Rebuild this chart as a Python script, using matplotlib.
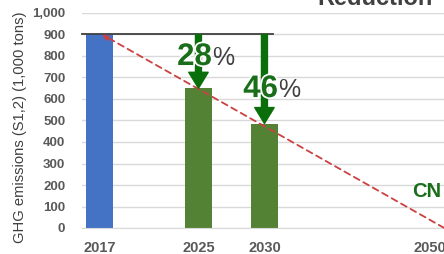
import matplotlib
matplotlib.use("Agg")
import matplotlib.pyplot as plt
import matplotlib.patheffects as pe

plt.rcParams['font.family'] = ['Liberation Sans', 'DejaVu Sans']

# Data
years = ["2017", "2025", "2030", "2050"]
year_pos = [0, 3, 5, 10]
bar_years = ["2017", "2025", "2030"]
bar_values = [900, 650, 486]
bar_colors = ["#4472c4", "#548235", "#548235"]
base_value = 900
reductions = ["28", "46"]
cn_value = 0
yticks = list(range(0, 1001, 100))
ytick_labels = [f"{v:,}" for v in yticks]

fig = plt.figure(figsize=(4.44, 2.54), dpi=100)
ax = fig.add_axes([82/444, 26/254, 388/444, 215/254])
ax.set_xlim(-0.53, 11.23)
ax.set_ylim(0, 1000)

pos = {y: p for y, p in zip(years, year_pos)}
bx = [pos[y] for y in bar_years]
ax.bar(bx, bar_values, width=0.82, color=bar_colors, zorder=2)

ax.set_yticks(yticks)
ax.set_yticklabels(ytick_labels, fontsize=9.5, fontweight='bold', color='#595959')
ax.set_xticks(year_pos)
ax.set_xticklabels(years, fontsize=10.5, fontweight='bold', color='#595959')
ax.tick_params(axis='y', length=0, pad=12)
ax.tick_params(axis='x', length=0, pad=9)
ax.grid(axis='y', color='#d9d9d9', linewidth=1, zorder=0)
for s in ['top', 'right', 'left']:
    ax.spines[s].set_visible(False)
ax.spines['bottom'].set_color('#d9d9d9')
ax.set_axisbelow(True)

ax.set_ylabel("GHG emissions (S1,2) (1,000 tons)", fontsize=10.6, color='#404040')
ax.yaxis.set_label_coords(-55/388, 0.47)

# baseline line at 900
ax.plot([-0.53, 5.25], [base_value, base_value], color='#404040', linewidth=1.3, zorder=3, clip_on=False)

# red dashed CN path
ax.annotate("", xy=(0.08, base_value), xytext=(pos["2050"] + 0.45, cn_value),
            arrowprops=dict(arrowstyle='-|>', linestyle=(0, (3.5, 2.5)), color='#cc4040',
                            lw=1.3, mutation_scale=8, shrinkA=0, shrinkB=0),
            zorder=4, annotation_clip=False)

# green arrows
for y, v in zip(bar_years[1:], bar_values[1:]):
    ax.annotate("", xy=(pos[y], v), xytext=(pos[y], base_value),
                arrowprops=dict(width=4.3, headwidth=14, headlength=11.5, color='#0a6e0a',
                                shrink=0), zorder=5)

# reduction labels
label_y = [758, 609]
for y, r, ly in zip(bar_years[1:], reductions, label_y):
    xr = pos[y] + 0.41
    ax.text(xr, ly, r, ha='right', va='baseline', fontsize=22.5, fontweight='bold',
            color='#1a6e1a', zorder=6,
            path_effects=[pe.withStroke(linewidth=2.5, foreground='white')])
    ax.text(xr, ly, "%", ha='left', va='baseline', fontsize=18,
            color='#404040', zorder=6)

ax.text(9.47, 144, "CN", ha='left', va='baseline', fontsize=14.5, fontweight='bold', color='#1a6e1a')

fig.text(317/444, 1 - 5/254, "Reduction", ha='left', va='baseline', fontsize=17,
         fontweight='bold', color='#404040')

fig.savefig("out.png", dpi=100)
